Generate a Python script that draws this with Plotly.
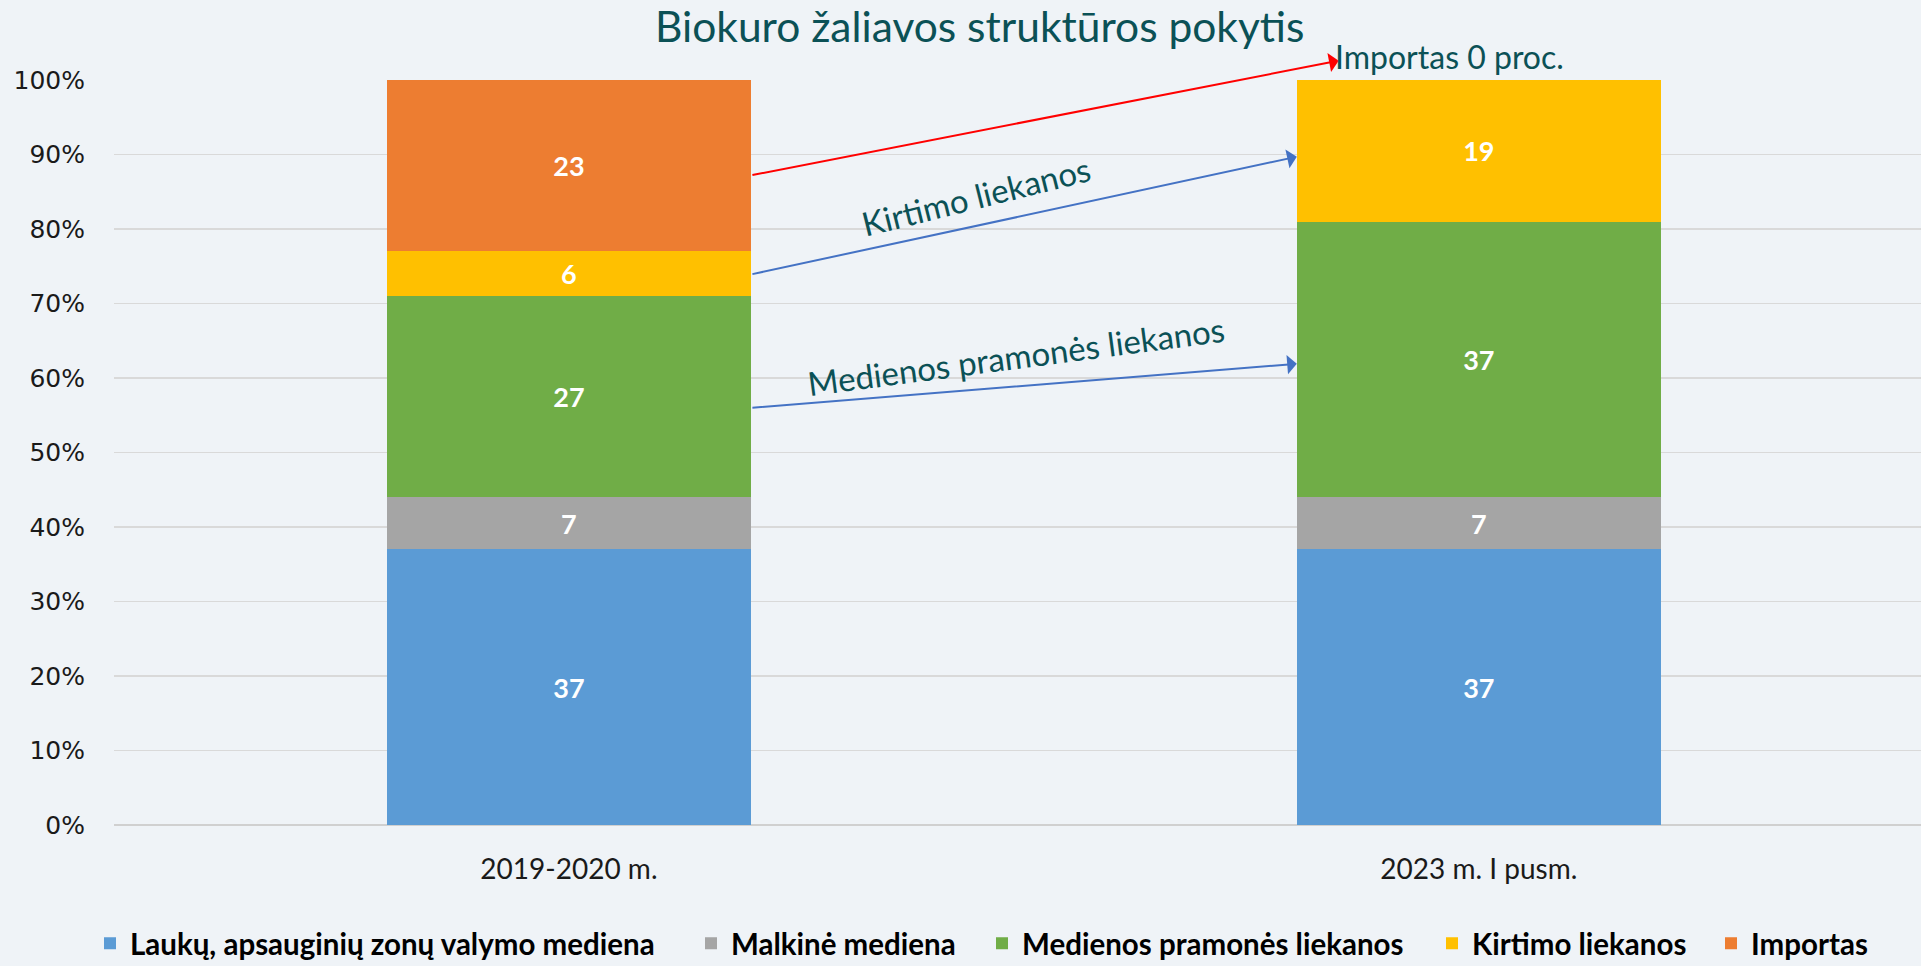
import plotly.graph_objects as go

categories = ["2019-2020 m.", "2023 m. I pusm."]
laukai = [37, 37]
malkine = [7, 7]
pramone = [27, 37]
kirtimo = [6, 19]
importas = [23, 0]

series = [
    ("Laukų, apsauginių zonų valymo mediena", laukai, "#5b9bd5"),
    ("Malkinė mediena", malkine, "#a5a5a5"),
    ("Medienos pramonės liekanos", pramone, "#70ad47"),
    ("Kirtimo liekanos", kirtimo, "#ffc000"),
    ("Importas", importas, "#ed7d31"),
]

FONT = "Lato"
TEAL = "#0b5156"
W, H = 1921, 966
ML, MT, MB = 114, 80, 141
PW = W - ML

# legend text start pixels (full-size)
legend_text_x = [132, 733, 1024, 1474, 1753]
legend_names = ["legend", "legend2", "legend3", "legend4", "legend5"]

fig = go.Figure()
for (name, vals, col), lg in zip(series, legend_names):
    fig.add_trace(go.Bar(
        x=categories, y=vals, name=name, marker=dict(color=col, line=dict(width=0)),
        text=[str(v) if v > 0 else "" for v in vals],
        textposition="inside", insidetextanchor="middle",
        textfont=dict(family=FONT, size=27, color="white", weight="bold"),
        width=0.4, legend=lg, hoverinfo="skip",
    ))

# arrows (data coordinates)
arrows = [
    (0.2, 87.2, 0.846, 102.6, "#ff0000"),
    (0.2, 73.9, 0.8, 89.7, "#4472c4"),
    (0.2, 56.0, 0.8, 61.9, "#4472c4"),
]
for x0, y0, x1, y1, c in arrows:
    fig.add_annotation(x=x1, y=y1, ax=x0, ay=y0, xref="x", yref="y", axref="x", ayref="y",
                       showarrow=True, arrowhead=1, arrowsize=1.6, arrowwidth=2, arrowcolor=c,
                       text="")

fig.add_annotation(text="Importas 0 proc.", x=(1333 - ML) / PW, y=(824.5 - 56) / 745,
                   xref="paper", yref="paper",
                   xanchor="left", yanchor="middle", showarrow=False,
                   font=dict(family=FONT, size=32, color=TEAL))
fig.add_annotation(text="Kirtimo liekanos", x=0.447, y=84.4, xref="x", yref="y",
                   showarrow=False, textangle=-14,
                   font=dict(family=FONT, size=33, color=TEAL))
fig.add_annotation(text="Medienos pramonės liekanos", x=0.491, y=63.0, xref="x", yref="y",
                   showarrow=False, textangle=-7.5,
                   font=dict(family=FONT, size=33, color=TEAL))

legend_common = dict(orientation="h", xanchor="left", y=-0.159, yanchor="middle",
                     font=dict(family=FONT, size=29.5, color="#000", weight="bold"),
                     itemwidth=30, bgcolor="rgba(0,0,0,0)")
legend_layout = {}
for lg, tx in zip(legend_names, legend_text_x):
    d = dict(legend_common)
    d["x"] = (tx - ML - 42) / PW
    legend_layout[lg] = d

fig.update_layout(
    barmode="stack",
    width=W, height=H,
    paper_bgcolor="#eff3f7", plot_bgcolor="#eff3f7",
    margin=dict(l=ML, r=0, t=MT, b=MB, autoexpand=False),
    hovermode=False,
    title=dict(text="Biokuro žaliavos struktūros pokytis", x=0.51, xanchor="center",
               y=0.972, yanchor="middle", yref="container",
               font=dict(family=FONT, size=42.5, color=TEAL)),
    xaxis=dict(type="category", range=[-0.5, 1.486], showgrid=False, showline=False,
               ticks="", ticklabelstandoff=25, automargin=False,
               tickfont=dict(family=FONT, size=28, color="#1a1a1a")),
    yaxis=dict(range=[0, 100], dtick=10, ticksuffix="%", showgrid=True,
               gridcolor="#d9d9d9", gridwidth=1.5, zeroline=True, zerolinecolor="#d0d0d0",
               zerolinewidth=2, showline=False, ticks="", ticklabelstandoff=28, automargin=False,
               tickfont=dict(family="DejaVu Sans", size=25, color="#1a1a1a")),
    showlegend=True,
    **legend_layout,
)

fig.write_html("out.html", config={"displayModeBar": False, "staticPlot": True},
               post_script="document.body.style.margin='0';document.body.style.overflow='hidden';")
